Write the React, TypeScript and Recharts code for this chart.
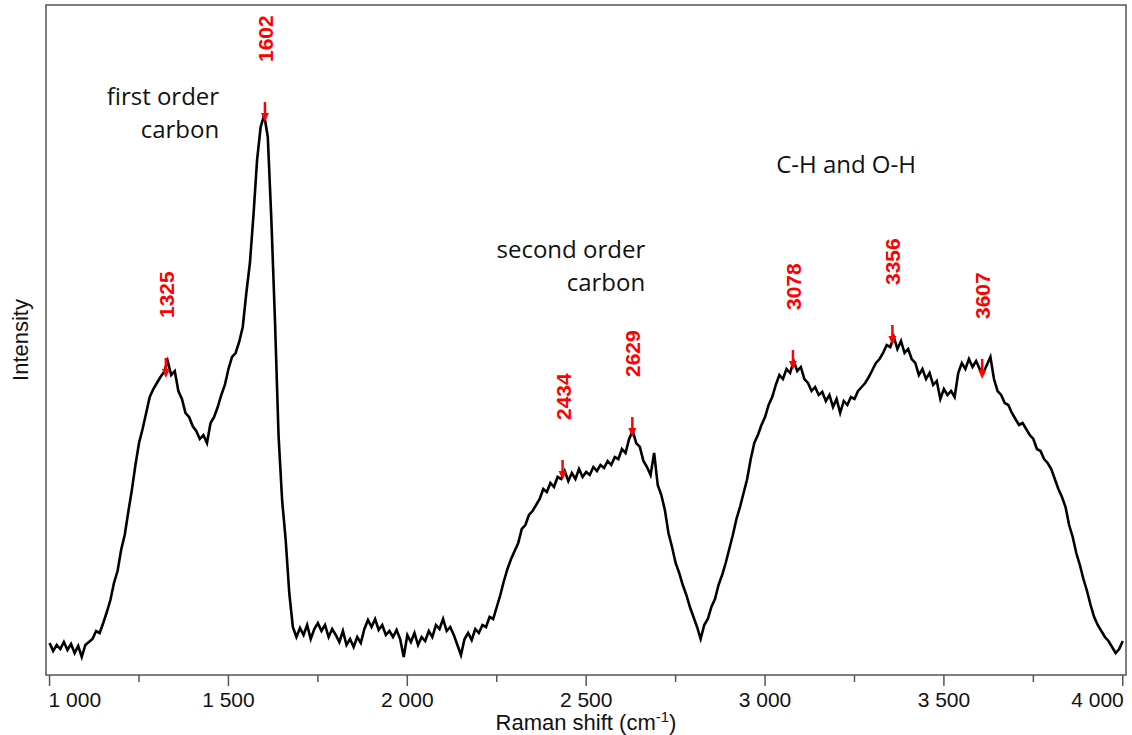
import { Line, LineChart, ReferenceArea, ReferenceDot, XAxis, YAxis } from "recharts"

// spectrum sampled every 10 cm-1 from 1000 to 4000, intensity in arbitrary units
const SHIFT_START = 1000
const SHIFT_STEP = 10
const INTENSITY = [
  32, 24, 30, 26, 33, 25, 31, 22, 29, 18,
  30, 33, 36, 44, 42, 52, 63, 75, 92, 104,
  125, 140, 163, 185, 210, 232, 246, 262, 278, 286,
  292, 298, 303, 314, 300, 304, 284, 276, 262, 258,
  249, 244, 236, 240, 232, 252, 258, 268, 280, 290,
  306, 318, 322, 333, 348, 382, 412, 460, 515, 548,
  560, 538, 455, 355, 240, 175, 135, 82, 48, 38,
  47, 40, 50, 36, 46, 52, 44, 50, 38, 46,
  40, 33, 44, 30, 36, 28, 38, 32, 46, 55,
  48, 56, 45, 50, 40, 44, 38, 45, 36, 18,
  40, 33, 42, 30, 38, 34, 44, 38, 50, 46,
  56, 44, 48, 40, 30, 20, 36, 42, 35, 46,
  42, 50, 48, 58, 56, 68, 80, 94, 106, 116,
  124, 132, 146, 150, 160, 164, 170, 176, 186, 183,
  192, 188, 198, 196, 204, 194, 202, 196, 206, 198,
  203, 200, 208, 204, 210, 207, 214, 210, 218, 216,
  226, 222, 236, 244, 232, 228, 214, 208, 200, 222,
  190, 180, 165, 142, 128, 112, 102, 90, 80, 68,
  58, 48, 36, 50, 56, 68, 76, 90, 100, 112,
  126, 140, 156, 168, 182, 196, 216, 232, 240, 250,
  258, 270, 278, 290, 300, 296, 306, 302, 314, 304,
  308, 296, 292, 284, 288, 280, 283, 274, 280, 268,
  276, 262, 274, 270, 278, 276, 284, 288, 292, 298,
  305, 312, 316, 322, 330, 328, 338, 326, 334, 322,
  326, 316, 312, 300, 306, 296, 302, 290, 294, 276,
  286, 280, 284, 278, 302, 312, 306, 316, 308, 314,
  306, 302, 310, 318, 296, 284, 280, 272, 270, 262,
  256, 250, 252, 246, 240, 236, 226, 224, 216, 212,
  206, 196, 186, 178, 168, 150, 138, 122, 110, 96,
  84, 70, 58, 50, 44, 38, 34, 28, 22, 26,
  34,
]

const PEAK_SHIFTS = [1325, 1602, 2434, 2629, 3078, 3356, 3607]
// where the arrow tip touches the curve
const PEAK_TIPS = [297, 553, 195, 238, 305, 330, 296]

const NOTE_LINES = [["first order", "carbon"], ["second order", "carbon"], ["C-H and O-H"]]
const NOTE_SHIFTS = [1474, 2665, 3031]
const NOTE_LEVELS = [570, 417, 502]

const X_TICKS = [1000, 1250, 1500, 1750, 2000, 2250, 2500, 2750, 3000, 3250, 3500, 3750, 4000]
const X_DOMAIN = [990, 4009]
const Y_DOMAIN = [0, 670]

const AXIS_FONT = "'Liberation Sans', Arial, sans-serif"
const NOTE_FONT = "'Open Sans', 'Noto Sans', sans-serif"
const FRAME = "#555"
const RED = "#ff0000"

const data = INTENSITY.map((h, i) => ({ v: SHIFT_START + i * SHIFT_STEP, h }))

function fmtShift(v: number) {
  const th = Math.floor(v / 1000)
  return `${th} ${String(v % 1000).padStart(3, "0")}`
}

function ShiftTick(props: any) {
  const { x, y, payload } = props
  const v = payload.value as number
  const major = v % 500 === 0
  let anchor = "middle"
  let dx = 0
  if (v === X_TICKS[0]) {
    anchor = "start"
    dx = -1
  } else if (v === X_TICKS[X_TICKS.length - 1]) {
    anchor = "end"
    dx = 1
  }
  return (
    <g>
      <line x1={x} x2={x} y1={y} y2={y + (major ? 11 : 7)} stroke={FRAME} strokeWidth={1.5} />
      {major && (
        <text x={x + dx} y={y + 32} textAnchor={anchor} fontSize={21} fill="#111" fontFamily={AXIS_FONT}>
          {fmtShift(v)}
        </text>
      )}
    </g>
  )
}

function xTitle(props: any) {
  const vb = props.viewBox
  return (
    <text x={vb.x + vb.width / 2} y={vb.y + 55} textAnchor="middle" fontSize={22} fill="#111" fontFamily={AXIS_FONT}>
      Raman shift (cm
      <tspan dy={-8} fontSize={15}>-1</tspan>
      <tspan dy={8}>)</tspan>
    </text>
  )
}

function yTitle(props: any) {
  const vb = props.viewBox
  const cx = vb.x + 28
  const cy = vb.y + vb.height / 2
  return (
    <text transform={`translate(${cx},${cy}) rotate(-90)`} textAnchor="middle" fontSize={22} fill="#111" fontFamily={AXIS_FONT}>
      Intensity
    </text>
  )
}

function PeakMarker({ cx, cy, label }: { cx: number; cy: number; label: string }) {
  return (
    <g>
      <line x1={cx} x2={cx} y1={cy - 20} y2={cy - 6} stroke={RED} strokeWidth={2.5} />
      <polygon points={`${cx - 4},${cy - 9} ${cx + 4},${cy - 9} ${cx},${cy}`} fill={RED} />
      <text
        transform={`translate(${cx + 8},${cy - 60}) rotate(-90)`}
        fontSize={21}
        fontWeight="bold"
        fill={RED}
        fontFamily={AXIS_FONT}
      >
        {label}
      </text>
    </g>
  )
}

function Note({ cx, cy, lines, anchor }: { cx: number; cy: number; lines: string[]; anchor: string }) {
  return (
    <text textAnchor={anchor} fontSize={24} fill="#111" fontFamily={NOTE_FONT}>
      {lines.map((l, i) => (
        <tspan key={i} x={cx} y={cy + i * 33}>
          {l}
        </tspan>
      ))}
    </text>
  )
}

export default function App() {
  return (
    <div style={{ position: "absolute", left: 0, top: 0, background: "#fff" }}>
      <LineChart width={1132} height={735} data={data} margin={{ top: 5, right: 6, bottom: 0, left: 0 }}>
        <XAxis
          dataKey="v"
          type="number"
          domain={X_DOMAIN}
          ticks={X_TICKS}
          interval={0}
          height={60}
          axisLine={false}
          tickLine={false}
          tickSize={0}
          tickMargin={0}
          tick={<ShiftTick />}
          label={xTitle}
        />
        <YAxis
          type="number"
          domain={Y_DOMAIN}
          width={46}
          tick={false}
          axisLine={false}
          tickLine={false}
          label={yTitle}
        />
        <ReferenceArea
          x1={X_DOMAIN[0]}
          x2={X_DOMAIN[1]}
          y1={Y_DOMAIN[0]}
          y2={Y_DOMAIN[1]}
          fill="none"
          fillOpacity={0}
          stroke={FRAME}
          strokeWidth={1.5}
          ifOverflow="visible"
        />
        <Line
          type="linear"
          dataKey="h"
          stroke="#000"
          strokeWidth={2.6}
          strokeLinejoin="miter"
          dot={false}
          activeDot={false}
          isAnimationActive={false}
        />
        {PEAK_SHIFTS.map((s, i) => (
          <ReferenceDot
            key={s}
            x={s}
            y={PEAK_TIPS[i]}
            ifOverflow="visible"
            shape={(p: any) => <PeakMarker cx={p.cx} cy={p.cy} label={String(s)} />}
          />
        ))}
        {NOTE_LINES.map((lines, i) => (
          <ReferenceDot
            key={lines[0]}
            x={NOTE_SHIFTS[i]}
            y={NOTE_LEVELS[i]}
            ifOverflow="visible"
            shape={(p: any) => (
              <Note cx={p.cx} cy={p.cy} lines={lines} anchor={i === 2 ? "start" : "end"} />
            )}
          />
        ))}
      </LineChart>
    </div>
  )
}
